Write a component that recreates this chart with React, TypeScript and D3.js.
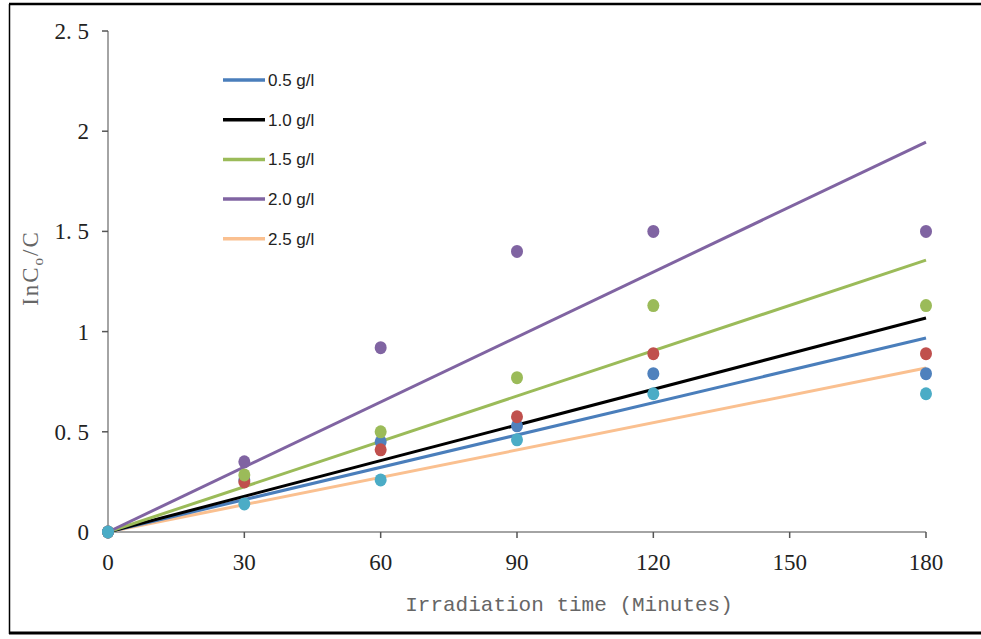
import React from "react";
import * as d3 from "d3";

const xTicks = [0, 30, 60, 90, 120, 150, 180];
const yTicks = [0, 0.5, 1, 1.5, 2, 2.5];
const yTickLabels = ["0", "0. 5", "1", "1. 5", "2", "2. 5"];

const times = [0, 30, 60, 90, 120, 180];
const seriesNames = ["0.5 g/l", "1.0 g/l", "1.5 g/l", "2.0 g/l", "2.5 g/l"];
const s05 = [0, 0.26, 0.45, 0.53, 0.79, 0.79];
const s10 = [0, 0.25, 0.41, 0.575, 0.89, 0.89];
const s15 = [0, 0.285, 0.5, 0.77, 1.13, 1.13];
const s20 = [0, 0.35, 0.92, 1.4, 1.5, 1.5];
const s25 = [0, 0.14, 0.26, 0.46, 0.69, 0.69];
const pointColors = ["#4f81bd", "#c0504d", "#9bbb59", "#8064a2", "#4bacc6"];
// trend line end values at t=180 (linear fits through origin)
const trendEnd = [0.968, 1.068, 1.357, 1.946, 0.818];
const trendColors = ["#4a7ebb", "#000000", "#9bbb59", "#8064a2", "#fac090"];

const seriesData = [s05, s10, s15, s20, s25];

export default function App() {
  const W = 981, H = 639;
  const x = d3.scaleLinear().domain([0, 180]).range([108, 926]);
  const y = d3.scaleLinear().domain([0, 2.5]).range([532, 31]);
  const line = d3.line<[number, number]>().x(d => x(d[0])).y(d => y(d[1]));
  const tickFont = "'Liberation Serif', 'DejaVu Serif', serif";
  const drawOrder = [4, 0, 1, 2, 3];
  return (
    <svg width={W} height={H} style={{ position: "absolute", left: 0, top: 0, background: "#fff" }}>
      <rect x={0} y={0} width={W} height={H} fill="#fff" />
      {/* frame */}
      <line x1={9} y1={4} x2={W} y2={4} stroke="#000" strokeWidth={2.5} />
      <line x1={9.5} y1={4} x2={9.5} y2={634} stroke="#000" strokeWidth={1.5} />
      <line x1={9} y1={633} x2={W} y2={633} stroke="#000" strokeWidth={3} />

      {/* axes */}
      <line x1={x(0)} y1={y(2.5)} x2={x(0)} y2={y(0)} stroke="#868686" strokeWidth={1.5} />
      <line x1={x(0)} y1={y(0)} x2={x(180)} y2={y(0)} stroke="#868686" strokeWidth={1.5} />
      {yTicks.map((t, i) => (
        <g key={"y" + i}>
          <line x1={x(0) - 6} x2={x(0)} y1={y(t)} y2={y(t)} stroke="#555" strokeWidth={1.5} />
          <text x={89} y={y(t) + 8} textAnchor="end" fontFamily={tickFont} fontSize={23} fill="#222">
            {yTickLabels[i]}
          </text>
        </g>
      ))}
      {xTicks.map((t, i) => (
        <g key={"x" + i}>
          <line x1={x(t)} x2={x(t)} y1={y(0)} y2={y(0) + 6} stroke="#555" strokeWidth={1.5} />
          <text x={x(t)} y={570} textAnchor="middle" fontFamily={tickFont} fontSize={23} fill="#222">
            {t}
          </text>
        </g>
      ))}

      {/* axis titles */}
      <text x={569} y={611} textAnchor="middle" fontFamily="'Liberation Mono', 'DejaVu Sans Mono', monospace" fontSize={21} fill="#666">
        Irradiation time (Minutes)
      </text>
      <text transform="translate(38,268) rotate(-90)" textAnchor="middle" fontFamily={tickFont} fontSize={23} letterSpacing={2} fill="#666">
        InC<tspan fontSize={15} dy={5}>o</tspan><tspan dy={-5}>/C</tspan>
      </text>

      {/* trend lines */}
      {drawOrder.map(i => (
        <path key={"t" + i} d={line([[0, 0], [180, trendEnd[i]]]) || ""} stroke={trendColors[i]} strokeWidth={3} fill="none" />
      ))}

      {/* points */}
      {seriesData.map((s, si) => (
        <g key={"p" + si}>
          {s.map((v, j) => (
            <ellipse key={j} cx={x(times[j])} cy={y(v)} rx={6} ry={6.5} fill={pointColors[si]} />
          ))}
        </g>
      ))}

      {/* legend */}
      {seriesNames.map((n, i) => (
        <g key={"l" + i} transform={`translate(0, ${80 + i * 39.7})`}>
          <line x1={223} x2={265} y1={0} y2={0} stroke={trendColors[i]} strokeWidth={3.5} />
          <text x={268} y={6} fontFamily="'Liberation Sans Narrow', 'Liberation Sans', sans-serif" fontSize={17} fill="#222">
            {n}
          </text>
        </g>
      ))}
    </svg>
  );
}
